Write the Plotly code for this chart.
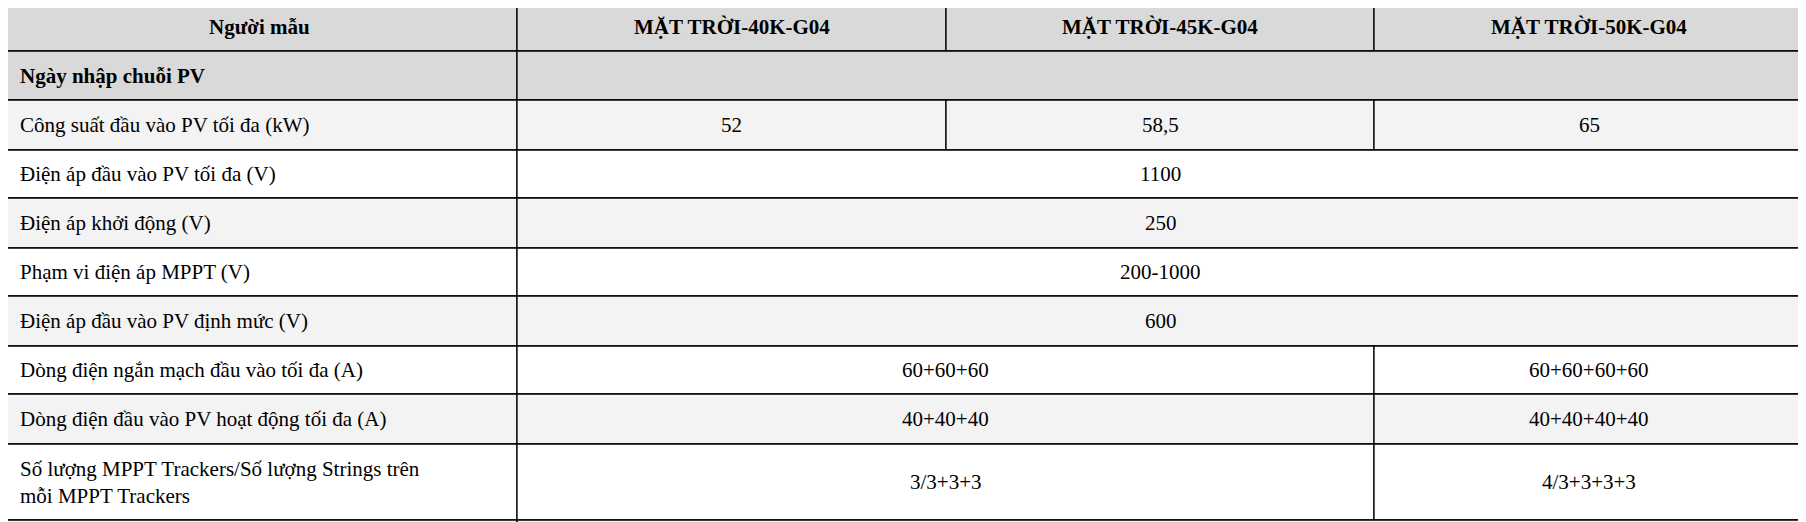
import plotly.graph_objects as go

# table content
models = ["MẶT TRỜI-40K-G04", "MẶT TRỜI-45K-G04", "MẶT TRỜI-50K-G04"]
header_label = "Người mẫu"
section_label = "Ngày nhập chuỗi PV"
params = [
    "Công suất đầu vào PV tối đa (kW)",
    "Điện áp đầu vào PV tối đa (V)",
    "Điện áp khởi động (V)",
    "Phạm vi điện áp MPPT (V)",
    "Điện áp đầu vào PV định mức (V)",
    "Dòng điện ngắn mạch đầu vào tối đa (A)",
    "Dòng điện đầu vào PV hoạt động tối đa (A)",
    "Số lượng MPPT Trackers/Số lượng Strings trên<br>mỗi MPPT Trackers",
]
# each row: list of (value, column span)
values = [
    [("52", 1), ("58,5", 1), ("65", 1)],
    [("1100", 3)],
    [("250", 3)],
    [("200-1000", 3)],
    [("600", 3)],
    [("60+60+60", 2), ("60+60+60+60", 1)],
    [("40+40+40", 2), ("40+40+40+40", 1)],
    [("3/3+3+3", 2), ("4/3+3+3+3", 1)],
]

col_edges = [2, 517, 946, 1374, 1804]
row_edges = [2, 51, 100, 150, 198, 248, 296, 346, 394, 444, 520, 560]

GRAY = "#d9d9d9"
LIGHT = "#f3f3f3"
FONT = "Liberation Serif"
shapes, annots = [], []


def cell(r, c0, span, text, fill, bold=False, left=False):
    x0, x1 = col_edges[c0], col_edges[c0 + span]
    y0, y1 = row_edges[r], row_edges[r + 1]
    shapes.append(dict(type="rect", x0=x0, x1=x1, y0=y0, y1=y1, fillcolor=fill,
                       line=dict(color="black", width=1.3), layer="below"))
    if text:
        annots.append(dict(x=x0 + 16 if left else (x0 + x1) / 2, y=(y0 + y1) / 2,
                           text=f"<b>{text}</b>" if bold else text, showarrow=False,
                           xanchor="left" if left else "center", yanchor="middle",
                           align="left", font=dict(family=FONT, size=21, color="black")))


cell(0, 0, 1, header_label, GRAY, bold=True)
for i, m in enumerate(models):
    cell(0, i + 1, 1, m, GRAY, bold=True)
cell(1, 0, 1, section_label, GRAY, bold=True, left=True)
cell(1, 1, 3, "", GRAY)
for r, (p, vals) in enumerate(zip(params, values)):
    fill = LIGHT if r % 2 == 0 else "white"
    cell(r + 2, 0, 1, p, fill, left=True)
    c = 1
    for v, span in vals:
        cell(r + 2, c, span, v, fill)
        c += span
cell(10, 0, 1, "", LIGHT)
cell(10, 1, 3, "", LIGHT)

fig = go.Figure()
# the page body adds an 8px margin, so the ranges are offset to compensate
fig.update_layout(
    width=1806, height=522, margin=dict(l=0, r=0, t=0, b=0),
    paper_bgcolor="white", plot_bgcolor="white",
    xaxis=dict(range=[8, 1814], visible=False, fixedrange=True),
    yaxis=dict(range=[530, 8], visible=False, fixedrange=True),
    shapes=shapes, annotations=annots, showlegend=False,
)
fig.write_html("out.html")
